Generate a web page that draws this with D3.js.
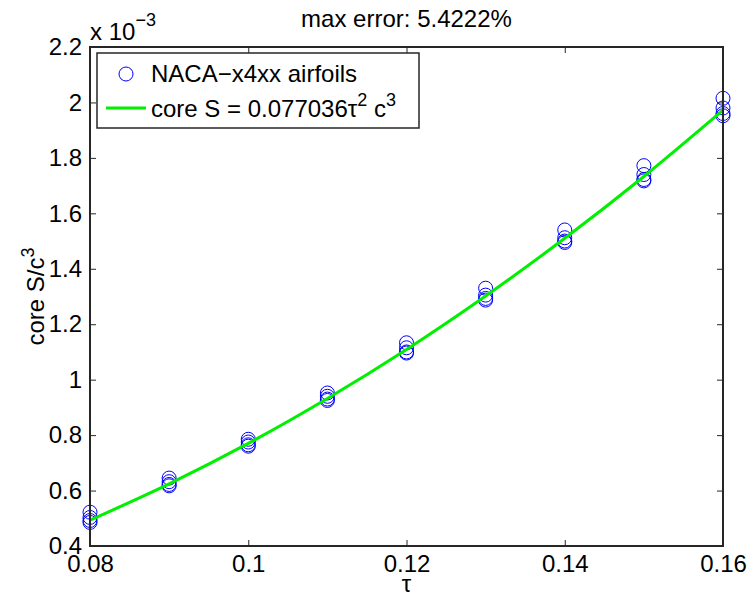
<!DOCTYPE html>
<html>
<head>
<meta charset="utf-8">
<script src="https://cdn.jsdelivr.net/npm/d3@7"></script>
<style>
  body { margin: 0; background: #fff; }
  svg { display: block; font-family: "Liberation Sans", Arial, sans-serif; }
</style>
</head>
<body>
<div id="chart"></div>
<script>
// core S / c^3 against thickness ratio tau, four samples per tau (x 1e-3)
const tauValues = [0.08, 0.09, 0.10, 0.11, 0.12, 0.13, 0.14, 0.15, 0.16];
const airfoilA = [0.522, 0.645, 0.785, 0.952, 1.133, 1.330, 1.540, 1.772, 2.015];
const airfoilB = [0.503, 0.632, 0.775, 0.940, 1.115, 1.305, 1.512, 1.740, 1.980];
const airfoilC = [0.492, 0.622, 0.765, 0.930, 1.100, 1.293, 1.500, 1.722, 1.960];
const airfoilD = [0.485, 0.617, 0.760, 0.925, 1.096, 1.287, 1.495, 1.717, 1.952];
const fitValues = [0.493, 0.624, 0.770, 0.932, 1.109, 1.302, 1.510, 1.733, 1.972];

const xTicks = [0.08, 0.10, 0.12, 0.14, 0.16];
const xTickLabels = ["0.08", "0.1", "0.12", "0.14", "0.16"];
const yTicks = [0.4, 0.6, 0.8, 1.0, 1.2, 1.4, 1.6, 1.8, 2.0, 2.2];
const yTickLabels = ["0.4", "0.6", "0.8", "1", "1.2", "1.4", "1.6", "1.8", "2", "2.2"];

const width = 748, height = 596;
const margin = { top: 47, right: 25, bottom: 50, left: 90 };
const innerWidth = width - margin.left - margin.right;
const innerHeight = height - margin.top - margin.bottom;
const fontSize = 24;

const svg = d3.select("#chart").append("svg")
  .attr("width", width)
  .attr("height", height);

const g = svg.append("g")
  .attr("transform", `translate(${margin.left},${margin.top})`);

const x = d3.scaleLinear().domain([0.08, 0.16]).range([0, innerWidth]);
const y = d3.scaleLinear().domain([0.4, 2.2]).range([innerHeight, 0]);

// points
const points = [];
[airfoilA, airfoilB, airfoilC, airfoilD].forEach(series => {
  series.forEach((v, i) => points.push({ tau: tauValues[i], s: v }));
});

g.selectAll("circle.pt")
  .data(points)
  .join("circle")
  .attr("class", "pt")
  .attr("cx", d => x(d.tau))
  .attr("cy", d => y(d.s))
  .attr("r", 7)
  .attr("fill", "none")
  .attr("stroke", "#0000ff")
  .attr("stroke-width", 1);

// fitted curve
const line = d3.line()
  .x((d, i) => x(tauValues[i]))
  .y(d => y(d))
  .curve(d3.curveMonotoneX);

g.append("path")
  .datum(fitValues)
  .attr("fill", "none")
  .attr("stroke", "#00f000")
  .attr("stroke-width", 3)
  .attr("d", line);

// axes (ticks inside, on all four sides)
const tickStyle = sel => {
  sel.select(".domain").remove();
  sel.selectAll(".tick line").attr("stroke", "#262626").attr("stroke-width", 1);
  sel.selectAll(".tick text").attr("fill", "#000").style("font-size", fontSize + "px")
    .style("font-family", "'Liberation Sans', Arial, sans-serif");
};

g.append("g")
  .attr("transform", `translate(0,${innerHeight})`)
  .call(d3.axisBottom(x).tickValues(xTicks).tickSize(-6).tickPadding(9)
    .tickFormat((d, i) => xTickLabels[i]))
  .call(tickStyle);

g.append("g")
  .call(d3.axisTop(x).tickValues(xTicks).tickSize(-6).tickFormat(""))
  .call(tickStyle);

g.append("g")
  .call(d3.axisLeft(y).tickValues(yTicks).tickSize(-6).tickPadding(8)
    .tickFormat((d, i) => yTickLabels[i]))
  .call(tickStyle);

g.append("g")
  .attr("transform", `translate(${innerWidth},0)`)
  .call(d3.axisRight(y).tickValues(yTicks).tickSize(-6).tickFormat(""))
  .call(tickStyle);

// box
g.append("rect")
  .attr("width", innerWidth)
  .attr("height", innerHeight)
  .attr("fill", "none")
  .attr("stroke", "#262626")
  .attr("stroke-width", 2);

// exponent label
const expo = svg.append("text")
  .attr("x", margin.left)
  .attr("y", 40)
  .style("font-size", fontSize + "px");
expo.append("tspan").text("x 10");
expo.append("tspan").attr("dy", -14).style("font-size", "18px").text("\u22123");

// title
svg.append("text")
  .attr("x", margin.left + innerWidth / 2)
  .attr("y", 27)
  .attr("text-anchor", "middle")
  .style("font-size", fontSize + "px")
  .text("max error: 5.4222%");

// x label
svg.append("text")
  .attr("x", margin.left + innerWidth / 2)
  .attr("y", 592)
  .attr("text-anchor", "middle")
  .style("font-size", fontSize + "px")
  .text("\u03c4");

// y label
const yl = svg.append("text")
  .attr("transform", `translate(44,${margin.top + innerHeight / 2}) rotate(-90)`)
  .attr("text-anchor", "middle")
  .style("font-size", fontSize + "px");
yl.append("tspan").text("core S/c");
yl.append("tspan").attr("dy", -10).style("font-size", "18px").text("3");

// legend
const legend = svg.append("g").attr("transform", "translate(97,53)");
legend.append("rect")
  .attr("width", 322)
  .attr("height", 75)
  .attr("fill", "#fff")
  .attr("stroke", "#262626")
  .attr("stroke-width", 1.5);

legend.append("circle")
  .attr("cx", 29).attr("cy", 21).attr("r", 7)
  .attr("fill", "none").attr("stroke", "#0000ff").attr("stroke-width", 1);
legend.append("text")
  .attr("x", 54).attr("y", 29)
  .style("font-size", fontSize + "px")
  .text("NACA\u2212x4xx airfoils");

legend.append("line")
  .attr("x1", 9).attr("x2", 49).attr("y1", 55).attr("y2", 55)
  .attr("stroke", "#00f000").attr("stroke-width", 3);
const lt = legend.append("text")
  .attr("x", 54).attr("y", 64)
  .style("font-size", fontSize + "px");
lt.append("tspan").text("core S = 0.077036\u03c4");
lt.append("tspan").attr("dy", -11).style("font-size", "18px").text("2");
lt.append("tspan").attr("dy", 11).text(" c");
lt.append("tspan").attr("dy", -11).style("font-size", "18px").text("3");
</script>
</body>
</html>
